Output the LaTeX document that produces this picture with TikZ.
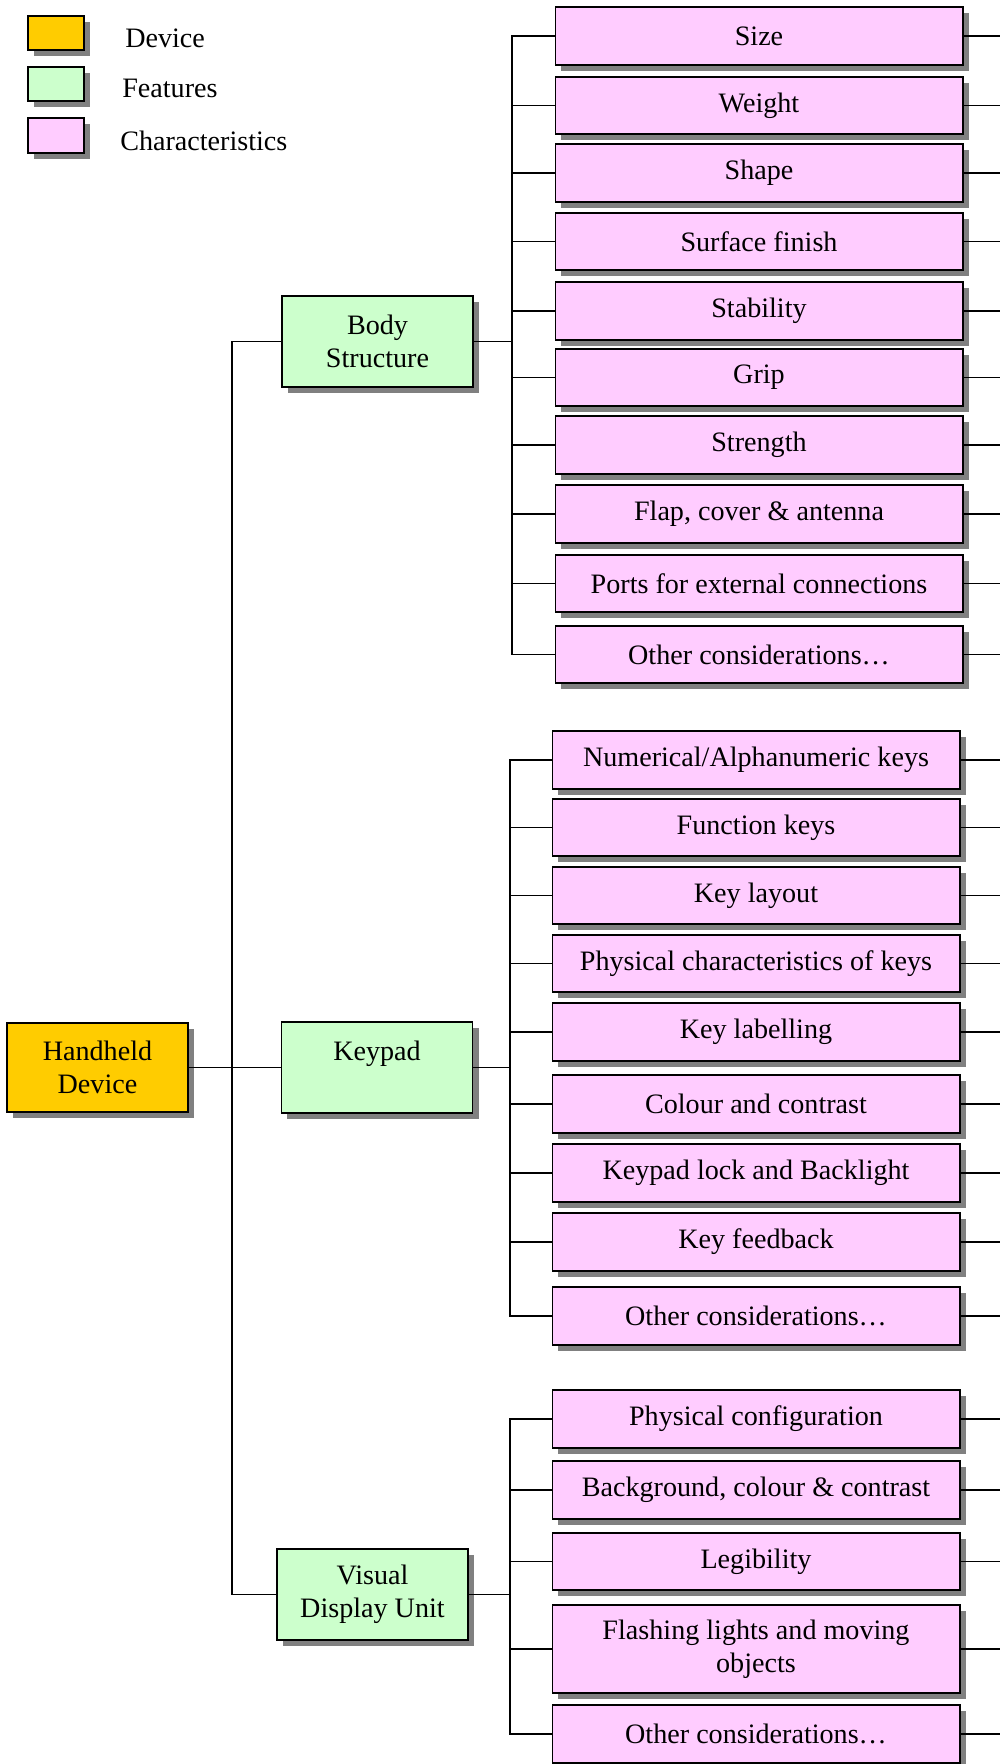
\documentclass[tikz,border=0pt]{standalone}
\usepackage{fontspec}
\setmainfont{Liberation Serif}
\usetikzlibrary{positioning,shadows}
\definecolor{devOrange}{RGB}{255, 204, 0}
\definecolor{featGreen}{RGB}{204, 255, 204}
\definecolor{charPink}{RGB}{255, 204, 255}
\definecolor{shadowGrey}{RGB}{128, 128, 128}

\tikzset{
  box/.style={draw, line width=1.2pt, inner sep=0pt, align=center,
    font=\fontsize{20}{23.5}\selectfont,
    drop shadow={shadow xshift=0.15cm, shadow yshift=-0.15cm, fill=shadowGrey, opacity=1}},
  devbox/.style={box, fill=devOrange, minimum width=4.52cm, minimum height=2.22cm},
  featbox/.style={box, fill=featGreen, minimum width=4.78cm, minimum height=2.28cm},
  charbox/.style={box, fill=charPink, minimum width=10.18cm, minimum height=1.44cm},
  keybox/.style={box, minimum width=1.4cm, minimum height=0.86cm},
  keytext/.style={anchor=base west, inner sep=0pt, font=\fontsize{20}{23.5}\selectfont},
  link/.style={line width=1.1pt}
}

\begin{document}
\begin{tikzpicture}[x=0.025cm, y=-0.025cm, line cap=rect]
    \useasboundingbox (0,0) rectangle (1000,1764);

    % legend
    \node[keybox, fill=devOrange] (kdev) at (56,33) {};
    \node[keybox, fill=featGreen] (kfeat) at (56,84) {};
    \node[keybox, fill=charPink] (kchar) at (56,135.5) {};
    \node[keytext] (tdev) at (125,47) {Device};
    \node[keytext] (tfeat) at (122,97) {Features};
    \node[keytext] (tchar) at (120,150) {Characteristics};

    % device and features
    \node[devbox] (hand) at (97.5,1067.5) {Handheld\\Device};
    \node[featbox] (body) at (377.5,341.5) {Body\\Structure};
    \node[featbox] (keypad) at (377,1067.5) {Keypad\\~};
    \node[featbox] (vdu) at (372.5,1594.5) {Visual\\Display Unit};

    % body structure
    \node[charbox] (b1) at (759,36) {Size};
    \node[charbox] (b2) at (759,105.5) {Weight};
    \node[charbox] (b3) at (759,173) {Shape};
    \node[charbox] (b4) at (759,241.5) {Surface finish};
    \node[charbox] (b5) at (759,311) {Stability};
    \node[charbox] (b6) at (759,377.5) {Grip};
    \node[charbox] (b7) at (759,445) {Strength};
    \node[charbox] (b8) at (759,514) {Flap, cover \& antenna};
    \node[charbox] (b9) at (759,583.5) {Ports for external connections};
    \node[charbox] (b10) at (759,654.5) {Other considerations…};

    % keypad
    \node[charbox] (k1) at (756,760) {Numerical/Alphanumeric keys};
    \node[charbox] (k2) at (756,827.5) {Function keys};
    \node[charbox] (k3) at (756,895.5) {Key layout};
    \node[charbox] (k4) at (756,963.5) {Physical characteristics of keys};
    \node[charbox] (k5) at (756,1032) {Key labelling};
    \node[charbox] (k6) at (756,1104) {Colour and contrast};
    \node[charbox] (k7) at (756,1173) {Keypad lock and Backlight};
    \node[charbox] (k8) at (756,1242) {Key feedback};
    \node[charbox] (k9) at (756,1316) {Other considerations…};

    % visual display unit
    \node[charbox] (v1) at (756,1419) {Physical configuration};
    \node[charbox] (v2) at (756,1490) {Background, colour \& contrast};
    \node[charbox] (v3) at (756,1561.5) {Legibility};
    \node[charbox, minimum height=2.2cm] (v4) at (756,1649) {Flashing lights and moving\\objects};
    \node[charbox] (v5) at (756,1734) {Other considerations…};

    % buses
    \coordinate (mainbus) at (232,0);
    \coordinate (bbus) at (512,0);
    \coordinate (kbus) at (510,0);
    \coordinate (vbus) at (510,0);
    \coordinate (rim) at (1000,0);

    \draw[link] (body.west) -- (body.west -| mainbus) -- (vdu.west -| mainbus) -- (vdu.west);
    \draw[link] (hand.east) -- (keypad.west);
    \draw[link] (body.east) -- (body.east -| bbus);
    \draw[link] (keypad.east) -- (keypad.east -| kbus);
    \draw[link] (vdu.east) -- (vdu.east -| vbus);
    \draw[link] (b1.west) -- (b1.west -| bbus) -- (b10.west -| bbus) -- (b10.west);
    \draw[link] (k1.west) -- (k1.west -| kbus) -- (k9.west -| kbus) -- (k9.west);
    \draw[link] (v1.west) -- (v1.west -| vbus) -- (v5.west -| vbus) -- (v5.west);
    \foreach \n in {b2,b3,b4,b5,b6,b7,b8,b9}
        \draw[link] (\n.west) -- (\n.west -| bbus);
    \foreach \n in {k2,k3,k4,k5,k6,k7,k8}
        \draw[link] (\n.west) -- (\n.west -| kbus);
    \foreach \n in {v2,v3,v4}
        \draw[link] (\n.west) -- (\n.west -| vbus);
    \foreach \n in {b1,b2,b3,b4,b5,b6,b7,b8,b9,b10,k1,k2,k3,k4,k5,k6,k7,k8,k9,v1,v2,v3,v4,v5}
        \draw[link] (\n.east) -- (\n.east -| rim);
\end{tikzpicture}
\end{document}
